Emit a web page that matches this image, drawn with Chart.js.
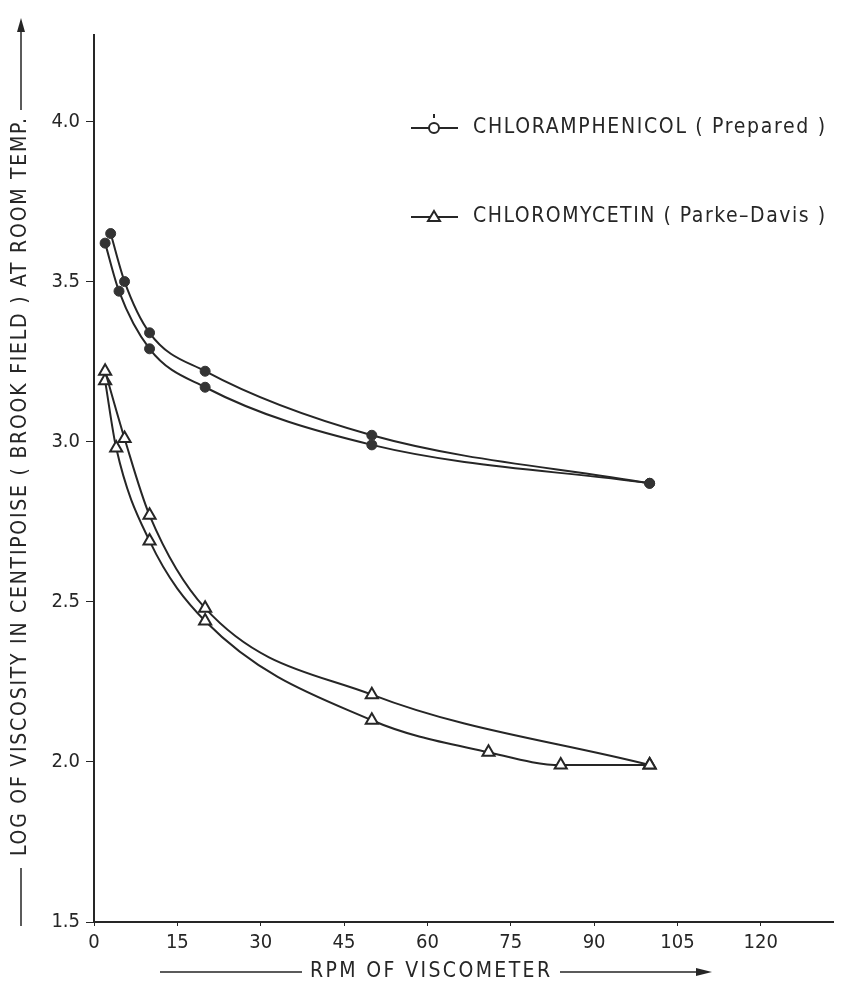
<!DOCTYPE html>
<html>
<head>
<meta charset="utf-8">
<script src="https://cdn.jsdelivr.net/npm/chart.js@4/dist/chart.umd.min.js"></script>
<style>
  html, body { margin: 0; padding: 0; background: #ffffff; }
  #wrap { width: 842px; height: 983px; }
</style>
</head>
<body>
<div id="wrap"><canvas id="viscChart" width="842" height="983"></canvas></div>
<script>
// Readings taken from the plot (RPM vs log viscosity)
const rpmCircleUpper = [3, 5.5, 10, 20, 50, 100];
const viscCircleUpper = [3.65, 3.50, 3.34, 3.22, 3.02, 2.87];
const rpmCircleLower = [2, 4.5, 10, 20, 50, 100];
const viscCircleLower = [3.62, 3.47, 3.29, 3.17, 2.99, 2.87];

const rpmTriUpper = [2, 5.5, 10, 20, 50, 100];
const viscTriUpper = [3.22, 3.01, 2.77, 2.48, 2.21, 1.99];
const rpmTriLower = [2, 4, 10, 20, 50, 71, 84, 100];
const viscTriLower = [3.19, 2.98, 2.69, 2.44, 2.13, 2.03, 1.99, 1.99];

const xTicks = [0, 15, 30, 45, 60, 75, 90, 105, 120];
const yTicks = [1.5, 2.0, 2.5, 3.0, 3.5, 4.0];

const legendLabels = ['CHLORAMPHENICOL ( Prepared )', 'CHLOROMYCETIN ( Parke\u2013Davis )'];
const xTitle = 'RPM OF VISCOMETER';
const yTitle = 'LOG OF VISCOSITY IN CENTIPOISE ( BROOK FIELD ) AT ROOM TEMP.';

const INK = '#262626';
const FONT = "'DejaVu Sans Condensed', 'DejaVu Sans', sans-serif";

function toPoints(xs, ys) {
    return xs.map((x, i) => ({ x: x, y: ys[i] }));
}

function curve(xs, ys, style) {
    const base = {
        data: toPoints(xs, ys),
        showLine: true,
        borderColor: INK,
        borderWidth: 2,
        cubicInterpolationMode: 'monotone',
        clip: false
    };
    if (style === 'circle') {
        return Object.assign(base, {
            pointStyle: 'circle',
            pointRadius: 5,
            pointBackgroundColor: '#333333',
            pointBorderColor: '#333333',
            pointBorderWidth: 1
        });
    }
    return Object.assign(base, {
        pointStyle: 'triangle',
        pointRadius: 7,
        pointBackgroundColor: '#ffffff',
        pointBorderColor: INK,
        pointBorderWidth: 2
    });
}

// draw text stretched to a given width (the original lettering is widely spaced)
function spacedText(ctx, text, cx, cy, width) {
    ctx.letterSpacing = '0px';
    const w = ctx.measureText(text).width;
    const sp = (width - w) / (text.length - 1);
    ctx.letterSpacing = sp + 'px';
    ctx.textAlign = 'left';
    ctx.textBaseline = 'middle';
    ctx.fillText(text, cx - width / 2, cy);
    ctx.letterSpacing = '0px';
}

function arrowHead(ctx, x, y, dir) {
    // dir: 'up' or 'right'
    ctx.beginPath();
    if (dir === 'up') {
        ctx.moveTo(x, y);
        ctx.lineTo(x - 4, y + 14);
        ctx.lineTo(x + 4, y + 14);
    } else {
        ctx.moveTo(x, y);
        ctx.lineTo(x - 16, y - 4);
        ctx.lineTo(x - 16, y + 4);
    }
    ctx.closePath();
    ctx.fill();
}

const decorPlugin = {
    id: 'decor',
    afterDraw(chart) {
        const ctx = chart.ctx;
        ctx.save();
        ctx.fillStyle = INK;
        ctx.strokeStyle = INK;
        ctx.lineWidth = 2;

        // legend
        ctx.font = '21px ' + FONT;
        const rows = [128, 217];
        rows.forEach((y, i) => {
            ctx.beginPath();
            ctx.moveTo(411, y);
            ctx.lineTo(458, y);
            ctx.stroke();
            if (i === 0) {
                ctx.beginPath();
                ctx.arc(434, y, 5, 0, Math.PI * 2);
                ctx.fillStyle = '#ffffff';
                ctx.fill();
                ctx.stroke();
                ctx.fillStyle = INK;
                ctx.fillRect(433, y - 14, 2, 4);
            } else {
                ctx.beginPath();
                ctx.moveTo(434, y - 6);
                ctx.lineTo(440, y + 4);
                ctx.lineTo(428, y + 4);
                ctx.closePath();
                ctx.fillStyle = '#ffffff';
                ctx.fill();
                ctx.stroke();
                ctx.fillStyle = INK;
            }
            spacedText(ctx, legendLabels[i], 473 + 176, y, 352);
        });

        // x axis title with arrow
        ctx.font = '21px ' + FONT;
        spacedText(ctx, xTitle, 430, 972, 240);
        ctx.lineWidth = 1.5;
        ctx.beginPath();
        ctx.moveTo(160, 972);
        ctx.lineTo(302, 972);
        ctx.moveTo(560, 972);
        ctx.lineTo(700, 972);
        ctx.stroke();
        arrowHead(ctx, 712, 972, 'right');

        // y axis title with arrow
        ctx.save();
        ctx.translate(21, 487);
        ctx.rotate(-Math.PI / 2);
        spacedText(ctx, yTitle, 0, 0, 738);
        ctx.restore();
        ctx.beginPath();
        ctx.moveTo(21, 926);
        ctx.lineTo(21, 868);
        ctx.moveTo(21, 110);
        ctx.lineTo(21, 30);
        ctx.stroke();
        arrowHead(ctx, 21, 18, 'up');

        ctx.restore();
    }
};

const chart = new Chart(document.getElementById('viscChart').getContext('2d'), {
    type: 'scatter',
    data: {
        datasets: [
            curve(rpmCircleUpper, viscCircleUpper, 'circle'),
            curve(rpmCircleLower, viscCircleLower, 'circle'),
            curve(rpmTriUpper, viscTriUpper, 'triangle'),
            curve(rpmTriLower, viscTriLower, 'triangle')
        ]
    },
    options: {
        responsive: false,
        animation: false,
        layout: { padding: { top: 35, right: 2, left: 0, bottom: 0 } },
        plugins: {
            legend: { display: false },
            tooltip: { enabled: false }
        },
        scales: {
            x: {
                type: 'linear',
                min: 0,
                max: 133,
                afterBuildTicks: axis => { axis.ticks = xTicks.map(v => ({ value: v })); },
                afterFit: axis => { axis.height = 61; },
                ticks: {
                    color: INK,
                    font: { family: FONT, size: 20 },
                    padding: 5,
                    maxRotation: 0
                },
                grid: { drawOnChartArea: false, drawTicks: true, tickLength: 4, color: INK },
                border: { color: INK, width: 2 }
            },
            y: {
                min: 1.5,
                max: 4.27,
                afterBuildTicks: axis => { axis.ticks = yTicks.map(v => ({ value: v })); },
                afterFit: axis => { axis.width = 94; },
                ticks: {
                    color: INK,
                    font: { family: FONT, size: 20 },
                    padding: 6,
                    callback: v => v.toFixed(1)
                },
                grid: { drawOnChartArea: false, drawTicks: true, tickLength: 8, color: INK },
                border: { color: INK, width: 2 }
            }
        }
    },
    plugins: [decorPlugin]
});
</script>
</body>
</html>
